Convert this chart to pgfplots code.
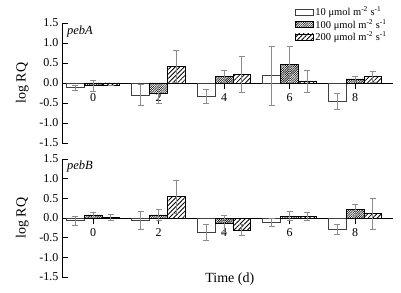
\documentclass[border=0pt]{standalone}
\usepackage{pgfplots}
\pgfplotsset{compat=1.18}
\usepackage{pgfplotstable}
\usepackage{fontspec}
\setmainfont{Liberation Serif}
\usetikzlibrary{patterns.meta}

\pgfplotstableread{
x y e
-0.55 -0.12 0.07
1.45 -0.30 0.27
3.45 -0.33 0.17
5.45 0.18 0.73
7.45 -0.46 0.21
}\Aten
\pgfplotstableread{
x y e
0 -0.07 0.13
2 -0.27 0.24
4 0.16 0.15
6 0.46 0.45
8 0.10 0.07
}\Ahun
\pgfplotstableread{
x y e
0.54 -0.07 0.0
2.54 0.42 0.40
4.54 0.22 0.45
6.54 0.05 0.27
8.54 0.16 0.14
}\Atwo
\pgfplotstableread{
x y e
-0.55 -0.07 0.12
1.45 -0.05 0.23
3.45 -0.37 0.20
5.45 -0.10 0.10
7.45 -0.29 0.13
}\Bten
\pgfplotstableread{
x y e
0 0.08 0.06
2 0.08 0.13
4 -0.14 0.22
6 0.05 0.12
8 0.22 0.14
}\Bhun
\pgfplotstableread{
x y e
0.54 0.01 0.08
2.54 0.55 0.42
4.54 -0.30 0.13
6.54 0.04 0.11
8.54 0.11 0.40
}\Btwo

\pgfplotsset{
  panel/.style={
    scale only axis,
    width=331pt,
    xmin=-0.95, xmax=9.16,
    ymin=-1.5, ymax=1.5,
    axis x line=middle,
    axis y line*=left,
    ytick pos=left,
    axis line style={-, line width=0.8pt},
    hide obscured x ticks=false,
    hide obscured y ticks=false,
    ytick={-1.5,-1,-0.5,0,0.5,1,1.5},
    yticklabel style={/pgf/number format/.cd, fixed, fixed zerofill, precision=1},
    xtick={0,2,4,6,8},
    xticklabel style={yshift=-1pt},
    xtick align=center,
    ytick align=inside,
    tick style={black, line width=0.6pt},
    major tick length=6pt,
    /pgf/number format/assume math mode=true,
    tick label style={font=\fontsize{12}{13}\selectfont},
    ylabel={log RQ},
    ylabel style={at={(axis description cs:-0.12,0.5)}, anchor=center, font=\fontsize{14}{16}\selectfont},
    ybar, bar width=0.54, bar shift=0pt,
    error bars/y dir=both, error bars/y explicit,
    error bars/error bar style={black!45, line width=0.6pt},
    error bars/error mark options={rotate=90, black!45, mark size=3pt, line width=0.6pt},
    legend image code/.code={\draw[#1, bar shift=0pt] (0pt,-3pt) rectangle (18pt,3pt);},
  },
  s10/.style={fill=white, draw=black!75, line width=0.6pt},
  s100/.style={draw=black, line width=0.6pt, pattern={Lines[angle=45, distance=1.6pt, line width=0.6pt]}},
  s200/.style={draw=black, line width=0.6pt, pattern={Lines[angle=45, distance=3.2pt, line width=0.8pt]}},
}

\begin{document}
\begin{tikzpicture}
\path[use as bounding box] (0,0) rectangle (401pt,292pt);
\begin{axis}[panel, height=120pt, at={(62pt,149pt)}, anchor=south west,
  legend style={at={(rel axis cs:0.99,1.16)}, anchor=north east, draw=none, fill=none,
    font=\fontsize{10.5}{11}\selectfont, row sep=-2pt, inner sep=1pt},
  legend cell align=left]
\addplot[s10] table[x=x,y=y,y error=e] {\Aten};
\addplot[s100] table[x=x,y=y,y error=e] {\Ahun};
\addplot[s200] table[x=x,y=y,y error=e] {\Atwo};
\legend{10 μmol m\textsuperscript{-2} s\textsuperscript{-1},100 μmol m\textsuperscript{-2} s\textsuperscript{-1},200 μmol m\textsuperscript{-2} s\textsuperscript{-1}}
\node[anchor=west, font=\fontsize{12.5}{13}\selectfont\itshape] at (rel axis cs:0.005,0.933) {pebA};
\end{axis}
\begin{axis}[panel, height=118pt, at={(62pt,15pt)}, anchor=south west,
  xlabel={Time (d)},
  xlabel style={at={(axis description cs:0.507,-0.02)}, anchor=center, font=\fontsize{14}{16}\selectfont}]
\addplot[s10] table[x=x,y=y,y error=e] {\Bten};
\addplot[s100] table[x=x,y=y,y error=e] {\Bhun};
\addplot[s200] table[x=x,y=y,y error=e] {\Btwo};
\node[anchor=west, font=\fontsize{12.5}{13}\selectfont\itshape] at (rel axis cs:0.005,0.933) {pebB};
\end{axis}
\end{tikzpicture}
\end{document}
